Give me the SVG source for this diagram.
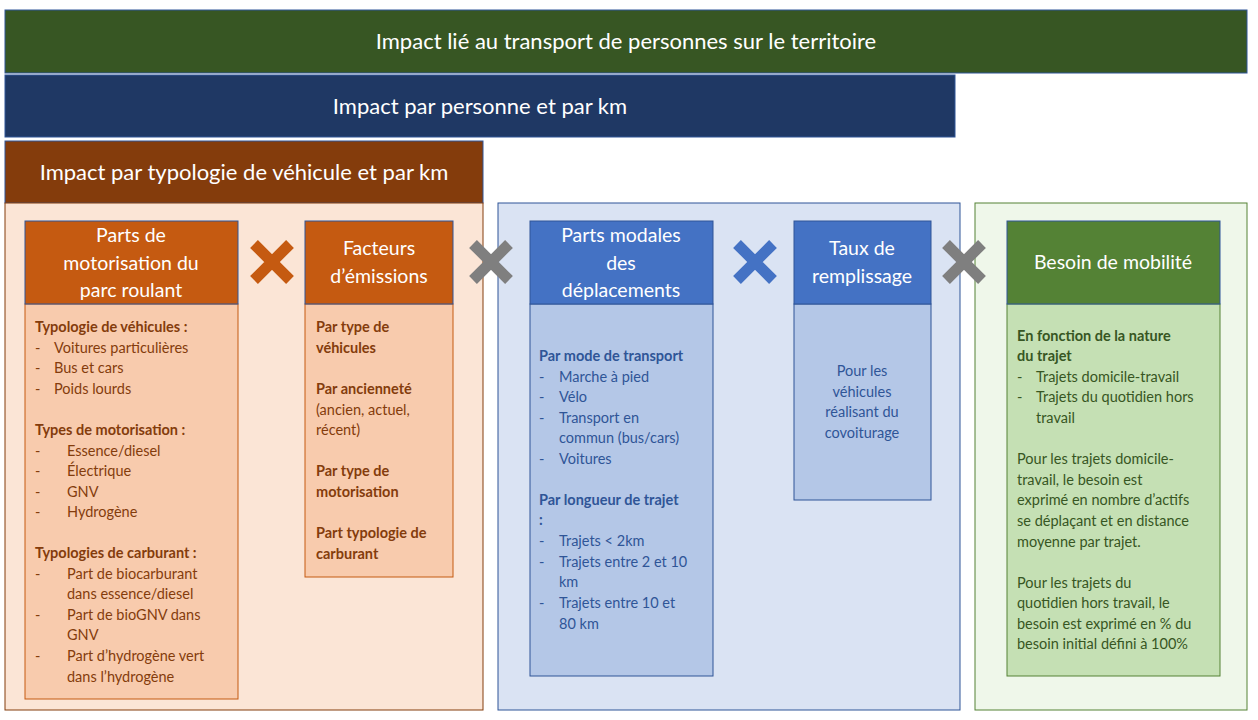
<svg xmlns="http://www.w3.org/2000/svg" width="1258" height="720" viewBox="0 0 1258 720">
<style>
text{font-family:Lato,"Open Sans","Liberation Sans",sans-serif}
.ban{fill:#fff;font-size:22px;text-anchor:middle}
.hd{fill:#fff;font-size:19.5px;text-anchor:middle}
.b{font-size:14.5px}
.bold{font-weight:bold}
.o{fill:#843C0C}.bl{fill:#2F5597}.g{fill:#375623}
.x{stroke-width:11;stroke-linecap:butt}
</style>
<rect width="1258" height="720" fill="#fff"/>
<g id="banners">
<rect x="5" y="10" width="1242" height="63" fill="#375623" stroke="#2F5597" stroke-width="1"/>
<text class="ban" x="626" y="49">Impact lié au transport de personnes sur le territoire</text>
<rect x="5" y="75" width="950" height="62" fill="#1F3864" stroke="#2F5597" stroke-width="1"/>
<text class="ban" x="480" y="114">Impact par personne et par km</text>
<rect x="5" y="141" width="478" height="62" fill="#843C0C" stroke="#2F5597" stroke-width="1"/>
<text class="ban" x="244" y="180">Impact par typologie de véhicule et par km</text>
</g>
<g id="panels">
<rect x="5" y="203" width="478" height="507" fill="#FBE5D6" stroke="#843C0C" stroke-width="1"/>
<rect x="498" y="203" width="462" height="507" fill="#DAE3F3" stroke="#2F5597" stroke-width="1"/>
<rect x="975" y="203" width="272" height="507" fill="#EFF7EA" stroke="#548235" stroke-width="1"/>
</g>
<g id="boxA">
<rect x="25" y="304" width="213" height="395" fill="#F8CBAD" stroke="#C55A11"/>
<rect x="25" y="221" width="213" height="83" fill="#C55A11" stroke="#2F5597"/>
<text class="hd" x="131" y="242">Parts de</text><text class="hd" x="131" y="270">motorisation du</text><text class="hd" x="131" y="297">parc roulant</text>
<g class="b o">
<text x="35" y="332" class="bold">Typologie de véhicules :</text>
<text x="35" y="353">-</text><text x="54" y="353">Voitures particulières</text>
<text x="35" y="373">-</text><text x="54" y="373">Bus et cars</text>
<text x="35" y="394">-</text><text x="54" y="394">Poids lourds</text>
<text x="35" y="435" class="bold">Types de motorisation :</text>
<text x="35" y="456">-</text><text x="67" y="456">Essence/diesel</text>
<text x="35" y="476">-</text><text x="67" y="476">Électrique</text>
<text x="35" y="497">-</text><text x="67" y="497">GNV</text>
<text x="35" y="517">-</text><text x="67" y="517">Hydrogène</text>
<text x="35" y="558" class="bold">Typologies de carburant :</text>
<text x="35" y="579">-</text><text x="67" y="579">Part de biocarburant</text>
<text x="67" y="599">dans essence/diesel</text>
<text x="35" y="620">-</text><text x="67" y="620">Part de bioGNV dans</text>
<text x="67" y="640">GNV</text>
<text x="35" y="661">-</text><text x="67" y="661">Part d’hydrogène vert</text>
<text x="67" y="682">dans l’hydrogène</text>
</g></g>
<g id="boxB">
<rect x="305" y="304" width="148" height="273" fill="#F8CBAD" stroke="#C55A11"/>
<rect x="305" y="221" width="148" height="83" fill="#C55A11" stroke="#2F5597"/>
<text class="hd" x="379" y="255">Facteurs</text><text class="hd" x="379" y="283">d’émissions</text>
<g class="b o">
<text x="316" y="332" class="bold">Par type de</text><text x="316" y="353" class="bold">véhicules</text>
<text x="316" y="394" class="bold">Par ancienneté</text><text x="316" y="415">(ancien, actuel,</text><text x="316" y="435">récent)</text>
<text x="316" y="476" class="bold">Par type de</text><text x="316" y="497" class="bold">motorisation</text>
<text x="316" y="538" class="bold">Part typologie de</text><text x="316" y="559" class="bold">carburant</text>
</g></g>
<g id="boxC">
<rect x="530" y="304" width="183" height="372" fill="#B4C7E7" stroke="#2F5597"/>
<rect x="530" y="221" width="183" height="83" fill="#4472C4" stroke="#2F5597"/>
<text class="hd" x="621" y="242">Parts modales</text><text class="hd" x="621" y="270">des</text><text class="hd" x="621" y="297">déplacements</text>
<g class="b bl">
<text x="539" y="361" class="bold">Par mode de transport</text>
<text x="539" y="382">-</text><text x="559" y="382">Marche à pied</text>
<text x="539" y="402">-</text><text x="559" y="402">Vélo</text>
<text x="539" y="423">-</text><text x="559" y="423">Transport en</text>
<text x="559" y="443">commun (bus/cars)</text>
<text x="539" y="464">-</text><text x="559" y="464">Voitures</text>
<text x="539" y="505" class="bold">Par longueur de trajet</text>
<text x="539" y="525" class="bold">:</text>
<text x="539" y="546">-</text><text x="559" y="546">Trajets &lt; 2km</text>
<text x="539" y="567">-</text><text x="559" y="567">Trajets entre 2 et 10</text>
<text x="559" y="587">km</text>
<text x="539" y="608">-</text><text x="559" y="608">Trajets entre 10 et</text>
<text x="559" y="629">80 km</text>
</g></g>
<g id="boxD">
<rect x="794" y="304" width="137" height="196" fill="#B4C7E7" stroke="#2F5597"/>
<rect x="794" y="221" width="137" height="83" fill="#4472C4" stroke="#2F5597"/>
<text class="hd" x="862" y="255">Taux de</text><text class="hd" x="862" y="283">remplissage</text>
<g class="b bl" text-anchor="middle">
<text x="862" y="376">Pour les</text><text x="862" y="397">véhicules</text><text x="862" y="417">réalisant du</text><text x="862" y="438">covoiturage</text>
</g></g>
<g id="boxE">
<rect x="1007" y="304" width="213" height="372" fill="#C5E0B4" stroke="#548235"/>
<rect x="1007" y="221" width="213" height="83" fill="#548235" stroke="#2F5597"/>
<text class="hd" x="1113" y="269">Besoin de mobilité</text>
<g class="b g">
<text x="1017" y="341" class="bold">En fonction de la nature</text>
<text x="1017" y="361" class="bold">du trajet</text>
<text x="1017" y="382">-</text><text x="1036" y="382">Trajets domicile-travail</text>
<text x="1017" y="402">-</text><text x="1036" y="402">Trajets du quotidien hors</text>
<text x="1036" y="423">travail</text>
<text x="1017" y="464">Pour les trajets domicile-</text>
<text x="1017" y="485">travail, le besoin est</text>
<text x="1017" y="505">exprimé en nombre d’actifs</text>
<text x="1017" y="526">se déplaçant et en distance</text>
<text x="1017" y="547">moyenne par trajet.</text>
<text x="1017" y="588">Pour les trajets du</text>
<text x="1017" y="608">quotidien hors travail, le</text>
<text x="1017" y="629">besoin est exprimé en % du</text>
<text x="1017" y="649">besoin initial défini à 100%</text>
</g></g>
<g id="connectors">
<path class="x" stroke="#C55A11" d="M254 244L290 280M290 244L254 280"/>
<path class="x" stroke="#7F7F7F" d="M473 244L509 280M509 244L473 280"/>
<path class="x" stroke="#4472C4" d="M737 244L773 280M773 244L737 280"/>
<path class="x" stroke="#7F7F7F" d="M946 244L982 280M982 244L946 280"/>
</g>
</svg>
